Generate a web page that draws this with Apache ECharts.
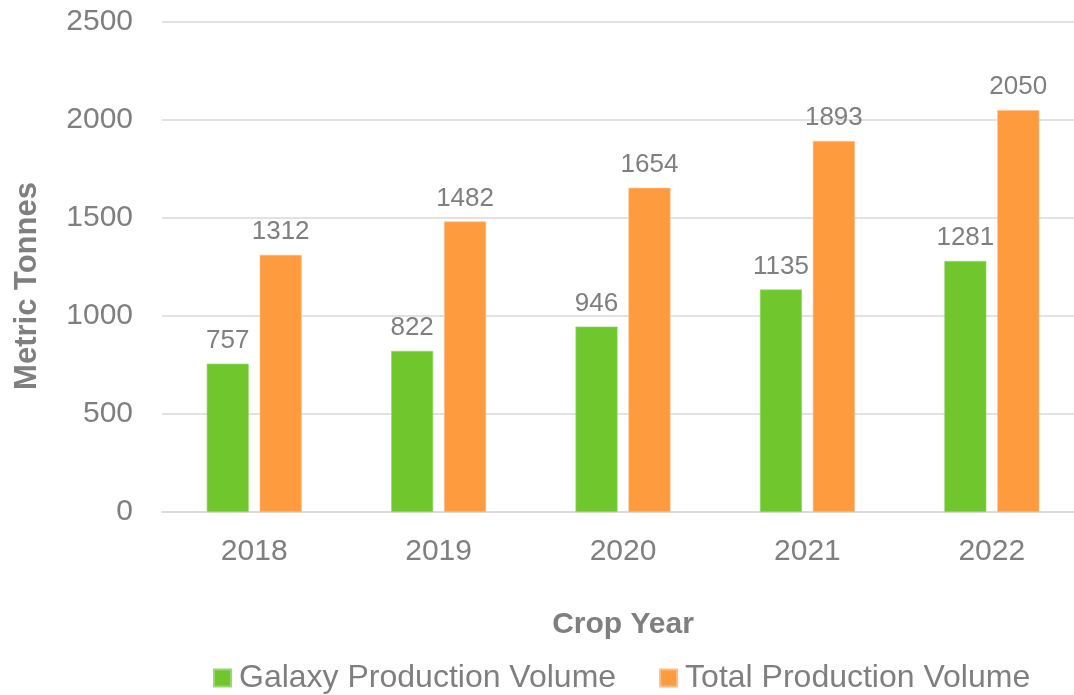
<!DOCTYPE html>
<html>
<head>
<meta charset="utf-8">
<script src="https://cdn.jsdelivr.net/npm/echarts@6/dist/echarts.min.js"></script>
<style>
html,body{margin:0;padding:0;background:#fff;overflow:hidden;width:1074px;height:695px;}
#chart{width:1084px;height:695px;}
</style>
</head>
<body>
<div id="chart"></div>
<script>
const categories = ['2018', '2019', '2020', '2021', '2022'];
const galaxyVolume = [757, 822, 946, 1135, 1281];
const totalVolume = [1312, 1482, 1654, 1893, 2050];
const seriesNames = ['Galaxy Production Volume', 'Total Production Volume'];
const xTitle = 'Crop Year';
const yTitle = 'Metric Tonnes';

const FONT = '"Liberation Sans", Arial, sans-serif';
const GRAY = '#7f7f7f';

const chart = echarts.init(document.getElementById('chart'), null, {renderer: 'canvas'});
chart.setOption({
  backgroundColor: '#ffffff',
  animation: false,
  textStyle: {fontFamily: FONT},
  grid: {left: 162, right: 0, top: 22, height: 490, containLabel: false},
  legend: {
    left: 208,
    top: 657,
    itemWidth: 17,
    itemHeight: 17,
    itemGap: 43,
    icon: 'rect',
    textStyle: {fontFamily: FONT, fontSize: 32, color: GRAY, padding: [0, 0, 0, 3]},
    data: seriesNames
  },
  graphic: [{
    type: 'text',
    x: 27,
    y: 286,
    rotation: Math.PI / 2,
    style: {
      text: yTitle,
      fontFamily: FONT,
      fontSize: 31,
      fontWeight: 'bold',
      fill: GRAY,
      align: 'center',
      verticalAlign: 'middle'
    }
  }],
  xAxis: {
    type: 'category',
    data: categories,
    name: xTitle,
    nameLocation: 'middle',
    nameGap: 98,
    nameTextStyle: {fontFamily: FONT, fontSize: 30, fontWeight: 'bold', color: GRAY},
    axisLine: {show: true, lineStyle: {color: '#d9d9d9', width: 1.5}},
    axisTick: {show: false},
    axisLabel: {fontFamily: FONT, fontSize: 30, color: GRAY, margin: 25}
  },
  yAxis: {
    type: 'value',
    min: 0,
    max: 2500,
    interval: 500,
    axisLine: {show: false},
    axisTick: {show: false},
    splitLine: {lineStyle: {color: '#d9d9d9', width: 1.5}},
    axisLabel: {fontFamily: FONT, fontSize: 30, color: GRAY, margin: 29, formatter: function (v) { return String(v); }}
  },
  series: [
    {
      name: seriesNames[0],
      type: 'bar',
      data: galaxyVolume,
      barWidth: 42,
      barGap: '26%',
      itemStyle: {color: '#6fc72d', borderColor: '#9ad86f', borderWidth: 0.6},
      label: {show: true, position: 'top', distance: 10, fontFamily: FONT, fontSize: 26, color: GRAY}
    },
    {
      name: seriesNames[1],
      type: 'bar',
      data: totalVolume,
      barWidth: 42,
      itemStyle: {color: '#ff9b3f', borderColor: '#ffbd85', borderWidth: 0.6},
      label: {show: true, position: 'top', distance: 10, fontFamily: FONT, fontSize: 26, color: GRAY}
    }
  ]
});
</script>
</body>
</html>
